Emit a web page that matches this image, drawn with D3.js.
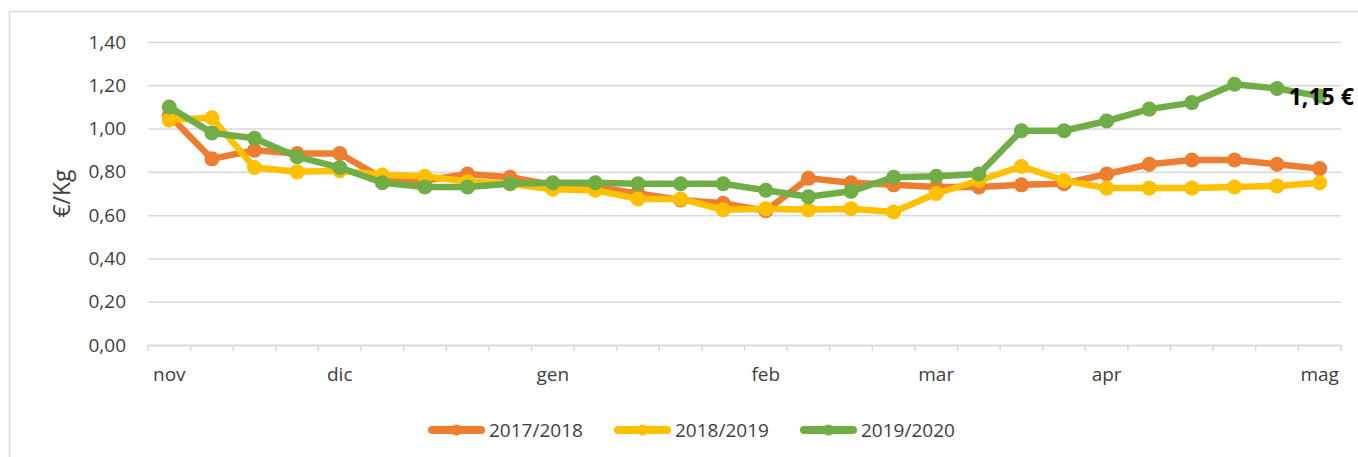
<!DOCTYPE html>
<html>
<head>
<meta charset="utf-8">
<script src="https://cdn.jsdelivr.net/npm/d3@7"></script>
<style>
  body { margin: 0; background: #fff; }
  text { font-family: "Open Sans", sans-serif; fill: #404040; }
</style>
</head>
<body>
<div id="chart"></div>
<script>
// weekly categories, month names only on the first week
const weekLabels = ["nov", "", "", "", "dic", "", "", "", "", "gen", "", "", "", "",
    "feb", "", "", "", "mar", "", "", "", "apr", "", "", "", "", "mag"];

const s2017 = [1.06, 0.86, 0.90, 0.885, 0.885, 0.77, 0.76, 0.79, 0.775, 0.74, 0.73, 0.70, 0.67, 0.655,
    0.62, 0.77, 0.75, 0.74, 0.73, 0.73, 0.74, 0.745, 0.79, 0.835, 0.855, 0.855, 0.835, 0.815];
const s2018 = [1.04, 1.05, 0.82, 0.80, 0.805, 0.785, 0.78, 0.755, 0.745, 0.72, 0.715, 0.675, 0.675, 0.625,
    0.63, 0.625, 0.63, 0.615, 0.70, 0.76, 0.825, 0.76, 0.725, 0.725, 0.725, 0.73, 0.735, 0.75];
const s2019 = [1.10, 0.98, 0.955, 0.87, 0.82, 0.75, 0.73, 0.73, 0.745, 0.75, 0.75, 0.745, 0.745, 0.745,
    0.715, 0.685, 0.71, 0.775, 0.78, 0.79, 0.99, 0.99, 1.035, 1.09, 1.12, 1.205, 1.185, 1.15];

const seriesNames = ["2017/2018", "2018/2019", "2019/2020"];
const seriesColors = ["#ED7D31", "#FFC000", "#70AD47"];
const yTicks = [0, 0.2, 0.4, 0.6, 0.8, 1.0, 1.2, 1.4];

const width = 1358, height = 457;
const margin = { top: 42, right: 17, bottom: 112, left: 148 };

const svg = d3.select("#chart").append("svg")
    .attr("width", width)
    .attr("height", height);

// chart area border
svg.append("rect")
    .attr("x", 9.5).attr("y", 11.5)
    .attr("width", width + 20).attr("height", height + 20)
    .attr("fill", "none")
    .attr("stroke", "#d9d9d9")
    .attr("stroke-width", 1.5);

const x = d3.scaleBand()
    .domain(d3.range(weekLabels.length))
    .range([margin.left, width - margin.right]);

const y = d3.scaleLinear()
    .domain([0, 1.4])
    .range([height - margin.bottom, margin.top]);

const fmt = d3.formatLocale({ decimal: ",", thousands: ".", grouping: [3], currency: ["", "€"] }).format(".2f");

// gridlines + y labels
const yAxis = svg.append("g")
    .attr("transform", `translate(${margin.left},0)`)
    .call(d3.axisLeft(y).tickValues(yTicks).tickFormat(fmt)
        .tickSize(-(width - margin.left - margin.right)).tickPadding(22));
yAxis.select(".domain").remove();
yAxis.selectAll("line").attr("stroke", "#d9d9d9").attr("stroke-width", 1.5);
yAxis.selectAll("text").style("font-size", "19px").attr("fill", "#404040");

// x axis line with ticks on category boundaries
const x0 = y(0);
svg.append("g")
    .selectAll("line")
    .data(d3.range(weekLabels.length + 1))
    .enter().append("line")
    .attr("x1", d => d < weekLabels.length ? x(d) : x.range()[1])
    .attr("x2", d => d < weekLabels.length ? x(d) : x.range()[1])
    .attr("y1", x0).attr("y2", x0 + 6)
    .attr("stroke", "#d9d9d9").attr("stroke-width", 1.5);

const xAxis = svg.append("g")
    .attr("transform", `translate(0,${x0})`)
    .call(d3.axisBottom(x).tickSize(0).tickPadding(23).tickFormat(i => weekLabels[i]));
xAxis.select(".domain").attr("stroke", "#d9d9d9").attr("stroke-width", 1.5);
xAxis.selectAll("text").style("font-size", "19px").attr("fill", "#404040");

// y title
svg.append("text")
    .attr("transform", `translate(70,${(y(0) + y(1.4)) / 2}) rotate(-90)`)
    .attr("text-anchor", "middle")
    .style("font-size", "23px")
    .text("€/Kg");

const line = d3.line()
    .x((d, i) => x(i) + x.bandwidth() / 2)
    .y(d => y(d));

[s2017, s2018, s2019].forEach((values, k) => {
    const g = svg.append("g");
    g.append("path")
        .datum(values)
        .attr("d", line)
        .attr("fill", "none")
        .attr("stroke", seriesColors[k])
        .attr("stroke-width", 6.5)
        .attr("stroke-linejoin", "round");
    g.selectAll("circle")
        .data(values)
        .enter().append("circle")
        .attr("cx", (d, i) => x(i) + x.bandwidth() / 2)
        .attr("cy", d => y(d))
        .attr("r", 7.5)
        .attr("fill", seriesColors[k]);
});

// data label on the last value
const last = s2019.length - 1;
svg.append("text")
    .attr("x", x(last) + x.bandwidth() / 2 - 31)
    .attr("y", y(s2019[last]) + 9)
    .style("font-size", "23px")
    .style("font-weight", "bold")
    .style("fill", "#000")
    .text(fmt(s2019[last]) + " €");

// legend
const legend = svg.append("g").attr("transform", "translate(428,430)");
seriesNames.forEach((name, k) => {
    const lg = legend.append("g").attr("transform", `translate(${k * 186},0)`);
    lg.append("line")
        .attr("x1", 4).attr("x2", 53)
        .attr("stroke", seriesColors[k])
        .attr("stroke-width", 8)
        .attr("stroke-linecap", "round");
    lg.append("circle").attr("cx", 28.5).attr("r", 5.5).attr("fill", seriesColors[k]);
    lg.append("text")
        .attr("x", 61).attr("dy", "0.35em")
        .style("font-size", "19px")
        .text(name);
});
</script>
</body>
</html>
